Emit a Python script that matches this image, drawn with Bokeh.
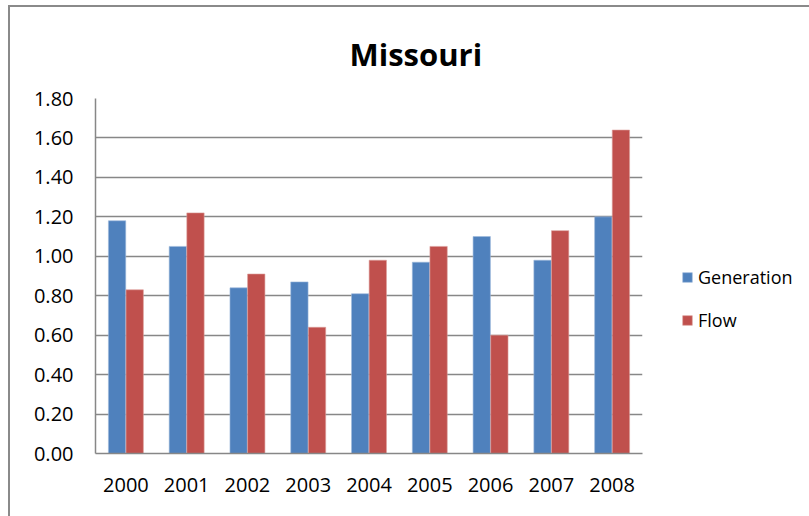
from bokeh.plotting import figure
from bokeh.models import (FactorRange, Range1d, FixedTicker, NumeralTickFormatter,
                          ColumnDataSource, Legend, LegendItem)
from bokeh.transform import dodge
from bokeh.embed import file_html
from bokeh.resources import INLINE

years = ["2000", "2001", "2002", "2003", "2004", "2005", "2006", "2007", "2008"]
generation = [1.18, 1.05, 0.84, 0.87, 0.81, 0.97, 1.10, 0.98, 1.20]
flow = [0.83, 1.22, 0.91, 0.64, 0.98, 1.05, 0.60, 1.13, 1.64]
y_ticks = [0.0, 0.2, 0.4, 0.6, 0.8, 1.0, 1.2, 1.4, 1.6, 1.8]
title_text = "Missouri"
series_names = ["Generation", "Flow"]

FONT = "Open Sans"
BLUE = "#4F81BD"
RED = "#C0504D"
GRID = "#878787"

src = ColumnDataSource(dict(year=years, gen=generation, flow=flow))

p = figure(x_range=FactorRange(*years), y_range=Range1d(0, 1.8),
           frame_width=547, frame_height=355, output_backend="svg", toolbar_location=None,
           min_border_left=85, min_border_right=167, min_border_top=91,
           min_border_bottom=63)
p.styles = {"border-left": "2px solid #8a8a8a", "border-top": "2px solid #8a8a8a",
            "box-sizing": "border-box", "margin-left": "8px", "margin-top": "5px"}
p.x_range.range_padding = 0
p.outline_line_color = None
p.background_fill_color = "white"
p.border_fill_color = "white"

r1 = p.vbar(x=dodge("year", -0.145, range=p.x_range), top="gen", width=0.285,
            source=src, fill_color=BLUE, line_color="#9db8dc", line_width=0.6)
r2 = p.vbar(x=dodge("year", 0.145, range=p.x_range), top="flow", width=0.285,
            source=src, fill_color=RED, line_color="#dc9d9b", line_width=0.6)

p.xgrid.grid_line_color = None
p.ygrid.grid_line_color = GRID
p.ygrid.grid_line_width = 1.5
p.yaxis.ticker = FixedTicker(ticks=y_ticks)
p.yaxis.formatter = NumeralTickFormatter(format="0.00")

for ax in (p.xaxis[0], p.yaxis[0]):
    ax.axis_line_color = GRID
    ax.axis_line_width = 1.5
    ax.major_tick_line_color = None
    ax.minor_tick_line_color = None
    ax.major_tick_out = 0
    ax.major_tick_in = 0
    ax.major_label_text_font = FONT
    ax.major_label_text_font_size = "20px"
    ax.major_label_text_color = "black"
p.yaxis.major_label_standoff = 22
p.xaxis.major_label_standoff = 24

p.title.text = title_text
p.title.align = "left"
p.title.offset = 254
p.title.standoff = 47
p.title.text_font = FONT
p.title.text_font_style = "bold"
p.title.text_font_size = "31px"
p.title.text_color = "black"

legend = Legend(items=[LegendItem(label=series_names[0], renderers=[r1]),
                       LegendItem(label=series_names[1], renderers=[r2])],
                location=(39, 121), orientation="vertical",
                glyph_width=12, glyph_height=12, label_height=12,
                label_standoff=5, spacing=19, padding=0, margin=0,
                label_text_font=FONT, label_text_font_size="18px",
                label_text_color="black",
                border_line_color=None, background_fill_alpha=0)
p.add_layout(legend, "right")

open("out.html", "w").write(file_html(p, INLINE))
